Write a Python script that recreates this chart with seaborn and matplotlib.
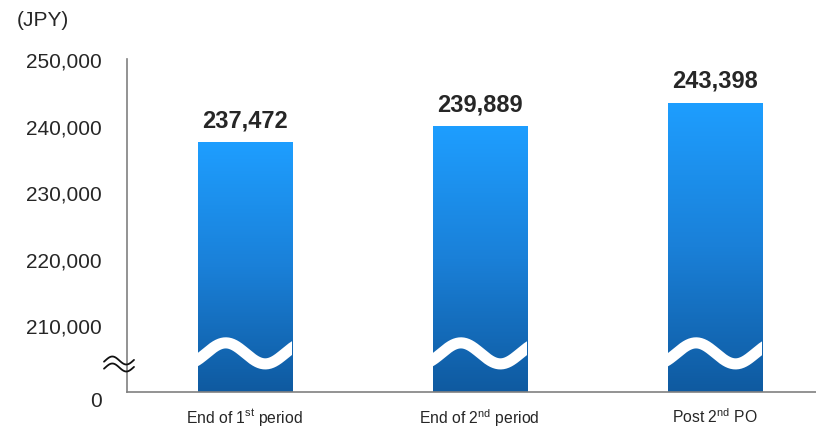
import numpy as np
import pandas as pd
import matplotlib
matplotlib.use("Agg")
import matplotlib.pyplot as plt
import matplotlib.transforms as mtransforms
from matplotlib.colors import LinearSegmentedColormap
import seaborn as sns

# ---- data ----
categories = [r"End of 1$^{\mathrm{st}}$ period",
              r"End of 2$^{\mathrm{nd}}$ period",
              r"Post 2$^{\mathrm{nd}}$ PO"]
values = [237472, 239889, 243398]
value_labels = ["237,472", "239,889", "243,398"]
ytick_values = [200000, 210000, 220000, 230000, 240000, 250000]
ytick_labels = ["0", "210,000", "220,000", "230,000", "240,000", "250,000"]
unit_label = "(JPY)"

sns.set_theme(style="white")
plt.rcParams['font.family'] = ['Liberation Sans', 'DejaVu Sans']
plt.rcParams['mathtext.fontset'] = 'custom'
plt.rcParams['mathtext.rm'] = 'Liberation Sans'

W, H = 816, 431
fig = plt.figure(figsize=(W / 100, H / 100), dpi=100)
ax_left, ax_right, ax_bottom, ax_top = 127, 816, 393, 60
ax = fig.add_axes([ax_left / W, (H - ax_bottom) / H,
                   (ax_right - ax_left) / W, (ax_bottom - ax_top) / H])

df = pd.DataFrame({"cat": categories, "val": values})
sns.barplot(data=df, x="cat", y="val", ax=ax, width=0.4,
            color="#1E9EFF", linewidth=0, saturation=1)

ymin, ymax = 200000, 250000
ax.set_ylim(ymin, ymax)
ax.set_xlim(-0.5, 2.43)

cmap = LinearSegmentedColormap.from_list("g", ["#0F5AA0", "#1A80D8", "#1E9EFF"])
grad = np.linspace(0, 1, 256).reshape(-1, 1)
for i, p in enumerate(ax.patches):
    x0 = p.get_x()
    w = p.get_width()
    top = p.get_y() + p.get_height()
    im = ax.imshow(grad, extent=[x0, x0 + w, ymin, top], origin="lower",
                   aspect="auto", cmap=cmap, zorder=2)
    im.set_clip_path(p)
    # white wave (axis break)
    t = np.linspace(-0.05, 1.05, 200)
    yy = 205800 + 1580 * np.cos(2 * np.pi * (t - 0.3) / 0.84)
    ln, = ax.plot(x0 + t * w, yy, color="white", lw=8, zorder=3,
                  solid_capstyle="butt")
    ln.set_clip_path(p)
    ax.text(x0 + w / 2, top, value_labels[i], ha="center", va="baseline",
            fontsize=17, fontweight="bold", color="#262626",
            transform=ax.transData + mtransforms.ScaledTranslation(0, 16 / 100, fig.dpi_scale_trans))

ax.set_xlim(-0.5, 2.43)
ax.set_ylim(ymin, ymax)

ax.set_yticks(ytick_values)
ax.set_yticklabels(ytick_labels)
ax.set_xlabel("")
ax.set_ylabel("")
ax.tick_params(axis="y", length=0, pad=18, labelsize=15, labelcolor="#262626")
ax.tick_params(axis="x", length=0, pad=10, labelsize=11.3, labelcolor="#262626")
for lab in ax.get_yticklabels():
    if lab.get_text() == "0":
        lab.set_transform(lab.get_transform() +
                          mtransforms.ScaledTranslation(0, -7 / 100, fig.dpi_scale_trans))

for s in ["top", "right"]:
    ax.spines[s].set_visible(False)
for s in ["left", "bottom"]:
    ax.spines[s].set_color("#808080")
    ax.spines[s].set_linewidth(1.2)

# axis break symbol on y axis
aw, ah = ax_right - ax_left, ax_bottom - ax_top
xs_px = np.linspace(104, 134, 60)
for yc in (361.5, 368.5):
    ys_px = yc - 4 * np.sin(2 * np.pi * (xs_px - 104) / 28 - 0.3)
    ax.plot((xs_px - ax_left) / aw, (ax_bottom - ys_px) / ah, color="#111111",
            lw=1.3, transform=ax.transAxes, clip_on=False, zorder=5)

fig.text(17 / W, 1 - 20 / H, unit_label, ha="left", va="center",
         fontsize=15, color="#262626")

fig.savefig("out.png", dpi=100)
